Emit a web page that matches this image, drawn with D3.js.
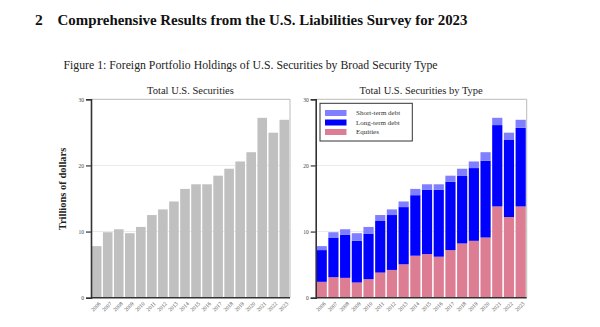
<!DOCTYPE html>
<html>
<head>
<meta charset="utf-8">
<script src="https://cdn.jsdelivr.net/npm/d3@7"></script>
<style>
  body { margin: 0; background: #fff; }
  text { font-family: "Liberation Serif", "DejaVu Serif", serif; }
</style>
</head>
<body>
<div id="chart"></div>
<script>
'use strict';

// data (trillions of dollars)
const years = ["2006","2007","2008","2009","2010","2011","2012","2013","2014",
               "2015","2016","2017","2018","2019","2020","2021","2022","2023"];
const totals = [7.8, 9.9, 10.35, 9.75, 10.7, 12.5, 13.35, 14.55, 16.45,
                17.15, 17.15, 18.45, 19.5, 20.6, 22.0, 27.2, 24.95, 26.9];
const equities = [2.4, 3.1, 3.0, 2.3, 2.8, 3.8, 4.2, 5.05, 6.35,
                  6.6, 6.2, 7.2, 8.2, 8.6, 9.1, 13.8, 12.2, 13.8];
const longTerm = [4.8, 6.0, 6.5, 6.3, 6.9, 7.8, 8.3, 8.65, 9.15,
                  9.7, 10.1, 10.35, 10.2, 11.0, 11.6, 12.3, 11.65, 11.9];
// short-term debt = total - equities - long-term
const shortTerm = totals.map((t, i) => +(t - equities[i] - longTerm[i]).toFixed(2));
const yTicks = [0, 10, 20, 30];
const seriesNames = ["Equities", "Long-term debt", "Short-term debt"];
const seriesColors = ["#dc7d94", "#0000ff", "#7f7fff"];

const svg = d3.select("#chart").append("svg")
    .attr("width", 600)
    .attr("height", 327);

svg.append("rect").attr("width", 600).attr("height", 327).attr("fill", "#fff");

// section heading
const head = svg.append("text")
    .attr("y", 25)
    .attr("font-weight", "bold")
    .attr("font-size", 15.5)
    .attr("fill", "#111");
head.append("tspan").attr("x", 35).text("2");
head.append("tspan").attr("x", 57.5)
    .attr("textLength", 410).attr("lengthAdjust", "spacingAndGlyphs")
    .text("Comprehensive Results from the U.S. Liabilities Survey for 2023");

svg.append("text")
    .attr("x", 63.5)
    .attr("y", 68.5)
    .attr("font-size", 12)
    .attr("fill", "#222")
    .attr("textLength", 374).attr("lengthAdjust", "spacingAndGlyphs")
    .text("Figure 1: Foreign Portfolio Holdings of U.S. Securities by Broad Security Type");

const y = d3.scaleLinear().domain([0, 30]).range([297.7, 99.3]);

function panel(x0, x1, title) {
  const x = d3.scaleBand().domain(years).range([x0, x1]).paddingInner(0.13).paddingOuter(0.08);
  const g = svg.append("g");

  // grid
  g.selectAll(".grid").data(yTicks.slice(1, 3)).enter().append("line")
      .attr("x1", x0).attr("x2", x1)
      .attr("y1", d => y(d)).attr("y2", d => y(d))
      .attr("stroke", "#e3e3e3").attr("stroke-width", 0.8);
  // light frame top/right
  g.append("path")
      .attr("d", `M${x0},${y(30)}H${x1}V${y(0)}`)
      .attr("fill", "none").attr("stroke", "#aaa").attr("stroke-width", 0.8);

  g.append("text")
      .attr("x", (x0 + x1) / 2).attr("y", 93.5)
      .attr("text-anchor", "middle")
      .attr("font-size", 10.5)
      .attr("fill", "#222")
      .text(title);
  return { g, x };
}

function axes(p, x0, x1) {
  const yAxis = d3.axisLeft(y).tickValues(yTicks).tickSize(5).tickPadding(2);
  const ga = p.g.append("g").attr("transform", `translate(${x0},0)`).call(yAxis);
  ga.select(".domain").attr("stroke", "#333").attr("stroke-width", 1.6);
  ga.selectAll(".tick line").attr("stroke", "#333").attr("stroke-width", 1.2);
  ga.selectAll("text").attr("font-size", 5.5).attr("fill", "#444")
      .attr("font-family", "DejaVu Sans, sans-serif");

  const xAxis = d3.axisBottom(p.x).tickSize(0).tickPadding(0);
  const gx = p.g.append("g").attr("transform", `translate(0,${y(0)})`).call(xAxis);
  gx.select(".domain").attr("d", `M${x0},0H${x1}`).attr("stroke", "#333").attr("stroke-width", 1.6);
  gx.selectAll("text")
      .attr("font-size", 5.5)
      .attr("fill", "#444")
      .attr("font-family", "DejaVu Sans, sans-serif")
      .attr("text-anchor", "end")
      .attr("y", 0)
      .attr("dy", "0.35em")
      .attr("transform", "translate(3,5) rotate(-45)");
}

// left panel: totals
const L0 = 91, L1 = 290;
const left = panel(L0, L1, "Total U.S. Securities");
left.g.selectAll(".bar").data(totals).enter().append("rect")
    .attr("x", (d, i) => left.x(years[i]))
    .attr("width", left.x.bandwidth())
    .attr("y", d => y(d))
    .attr("height", d => y(0) - y(d))
    .attr("fill", "#c0c0c0");
axes(left, L0, L1);

svg.append("text")
    .attr("transform", `translate(66,189) rotate(-90)`)
    .attr("text-anchor", "middle")
    .attr("font-weight", "bold")
    .attr("font-size", 10.5)
    .attr("fill", "#222")
    .text("Trillions of dollars");

// right panel: stacked by type
const R0 = 315.7, R1 = 526.7;
const right = panel(R0, R1, "Total U.S. Securities by Type");
const rows = years.map((yr, i) => ({ year: yr, "Equities": equities[i], "Long-term debt": longTerm[i], "Short-term debt": shortTerm[i] }));
const stack = d3.stack().keys(seriesNames)(rows);
right.g.selectAll(".layer").data(stack).enter().append("g")
    .attr("fill", (d, i) => seriesColors[i])
    .selectAll("rect").data(d => d).enter().append("rect")
    .attr("x", d => right.x(d.data.year))
    .attr("width", right.x.bandwidth())
    .attr("y", d => y(d[1]))
    .attr("height", d => y(d[0]) - y(d[1]));
axes(right, R0, R1);

// legend
const lg = svg.append("g");
lg.append("rect")
    .attr("x", 320).attr("y", 103.3).attr("width", 92.3).attr("height", 37.7)
    .attr("fill", "#fff").attr("stroke", "#333").attr("stroke-width", 1);
const legendOrder = [2, 1, 0];
legendOrder.forEach((k, j) => {
  const cy = 113 + j * 9.5;
  lg.append("rect")
      .attr("x", 325).attr("y", cy - 3).attr("width", 21.5).attr("height", 6)
      .attr("fill", seriesColors[k]);
  lg.append("text")
      .attr("x", 356).attr("y", cy + 2.4)
      .attr("font-size", 7)
      .attr("fill", "#333")
      .text(seriesNames[k]);
});
</script>
</body>
</html>
